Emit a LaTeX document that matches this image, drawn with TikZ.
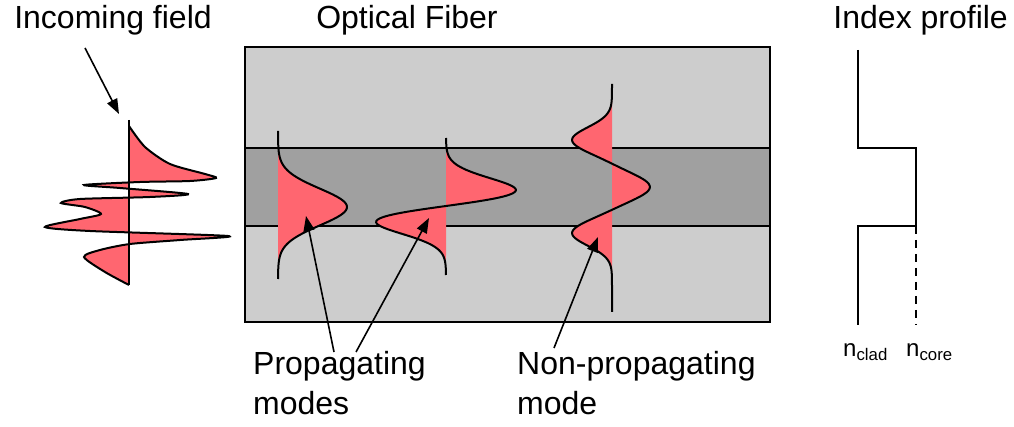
\documentclass[tikz,border=0pt]{standalone}
\usepackage{fontspec}
\setmainfont{Liberation Sans}
\begin{document}
\begin{tikzpicture}[x=1pt,y=-1pt,
  lbl/.style={font=\fontsize{32}{34}\selectfont,inner sep=0pt},
  ptr/.style={line width=1.6pt,-{Triangle[width=11pt,length=15pt]}},
  wall/.style={line width=2.6pt}]
\usetikzlibrary{arrows.meta}
\definecolor{clad}{HTML}{CDCDCD}
\definecolor{core}{HTML}{A0A0A0}
\definecolor{modered}{HTML}{FF6670}
\useasboundingbox (0,0) rectangle (1014,427);
% fiber
\fill[clad] (245,47) rectangle (770,322);
\fill[core] (245,148) rectangle (770,226);
\draw[wall] (245,148) -- (770,148) (245,226) -- (770,226);
\draw[wall] (245,47) rectangle (770,322);
% mode 1
\fill[modered] (278,131) -- plot[domain=131:279,samples=80,smooth] ({278+69*exp(-((\x-207)/26)^2)},\x) -- cycle;
\draw[line width=2pt] plot[domain=131:279,samples=80,smooth] ({278+69*exp(-((\x-207)/26)^2)},\x);
% mode 2
\fill[modered] (446,138) -- plot[domain=138:275,samples=100,smooth] ({446+163*((206-\x)/22.6)*exp(-((\x-206)/22.6)^2)},\x) -- cycle;
\draw[line width=2pt] plot[domain=138:275,samples=100,smooth] ({446+163*((206-\x)/22.6)*exp(-((\x-206)/22.6)^2)},\x);
% mode 3
\fill[modered] (612,84) -- plot[domain=84:312,samples=140,smooth] ({612+38*exp(-((\x-187)/18)^2)-40*exp(-((\x-140)/18)^2)-40*exp(-((\x-233)/18)^2)},\x) -- cycle;
\draw[line width=2pt] plot[domain=84:312,samples=140,smooth] ({612+38*exp(-((\x-187)/18)^2)-40*exp(-((\x-140)/18)^2)-40*exp(-((\x-233)/18)^2)},\x);
% incoming field
\path[fill=modered,draw=black,line width=2pt] plot[smooth,tension=0.45] coordinates{(129,126)(145,147)(170,164)(205,174)(216,178)(190,181)(140,182)(84,185)(120,188)(188,194)(150,197)(80,199)(61,203)(85,207)(101,214)(80,219)(45,227)(90,231)(228,236)(180,240)(130,244)(100,250)(84,257)(105,272)(129,285)};
\draw[line width=2pt] (129,120) -- (129,285);
% index profile
\draw[wall] (858,50) -- (858,148) -- (916,148) -- (916,226) -- (858,226) -- (858,325);
\draw[wall,dash pattern=on 8pt off 6pt] (916,226) -- (916,325);
% labels
\node[lbl] (tin) at (113,20) {Incoming field};
\node[lbl] (tof) at (407,20) {Optical Fiber};
\node[lbl,anchor=east] (tix) at (1008,20) {Index profile};
\node[lbl,anchor=west] (tp1) at (253,366) {Propagating};
\node[lbl,anchor=west] (tp2) at (253,403) {modes};
\node[lbl,anchor=west] (tn1) at (517,366) {Non-propagating};
\node[lbl,anchor=west] (tn2) at (517,403) {mode};
\node[inner sep=0pt,anchor=west,font=\fontsize{24}{26}\selectfont] (ncl) at (843,352) {n\textsubscript{clad}};
\node[inner sep=0pt,anchor=west,font=\fontsize{24}{26}\selectfont] (nco) at (906,352) {n\textsubscript{core}};
% arrows
\coordinate (a0) at (85,48); \coordinate (e0) at (119,114);
\coordinate (a1) at (334,352); \coordinate (e1) at (306,216);
\coordinate (a2) at (356,352); \coordinate (e2) at (429,218);
\coordinate (a3) at (554,348); \coordinate (e3) at (598,237);
\draw[ptr] (a0) -- (e0);
\draw[ptr] (a1) -- (e1);
\draw[ptr] (a2) -- (e2);
\draw[ptr] (a3) -- (e3);
\end{tikzpicture}
\end{document}
